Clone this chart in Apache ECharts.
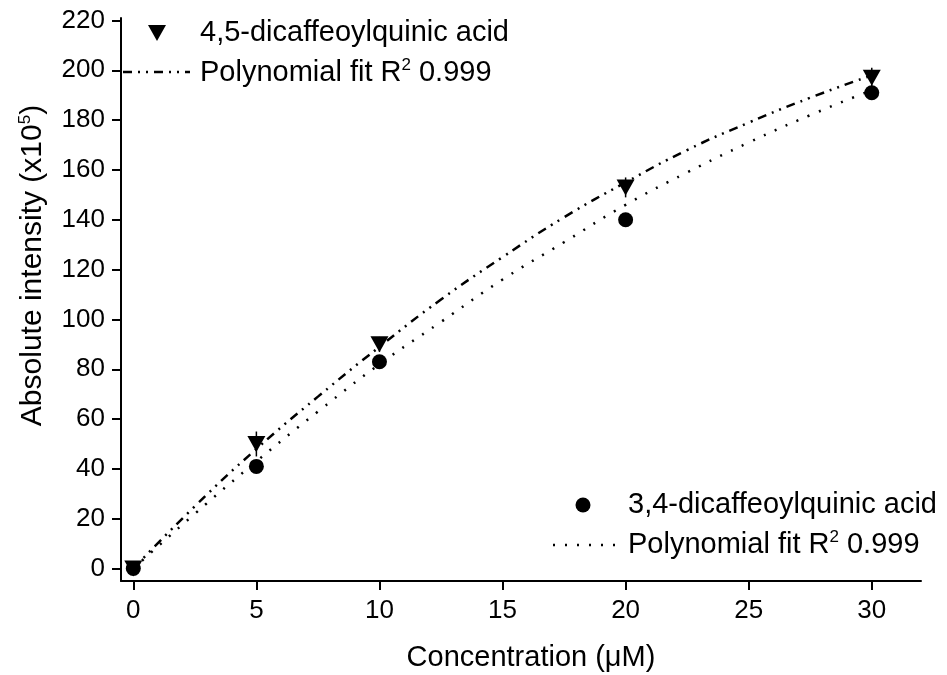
<!DOCTYPE html>
<html>
<head>
<meta charset="utf-8">
<script src="https://cdn.jsdelivr.net/npm/echarts@6/dist/echarts.min.js"></script>
<style>
html, body { margin: 0; background: #fff; }
#chart { width: 947px; height: 675px; }
</style>
</head>
<body>
<div id="chart"></div>
<script>
// concentrations (uM)
const conc = [0, 5, 10, 20, 30]
// 4,5-dicaffeoylquinic acid, intensity x10^5
const dcqa45 = [0, 50, 90, 153, 197]
const dcqa45Err = [0, 5, 3, 4, 4]
// 3,4-dicaffeoylquinic acid
const dcqa34 = [0, 41, 83, 140, 191]
// fitted curves
const fitX = [0, 2.5, 5, 7.5, 10, 12.5, 15, 17.5, 20, 22.5, 25, 27.5, 30]
const fit45 = [0, 25, 48, 69, 89, 108, 125, 141, 155, 168, 179, 189, 198]
const fit34 = [0, 22, 43, 63, 82, 99, 116, 131, 146, 159, 171, 182, 192]
const xTicks = [0, 5, 10, 15, 20, 25, 30]
const yTicks = [0, 20, 40, 60, 80, 100, 120, 140, 160, 180, 200, 220]

const pairs = (xs, ys) => xs.map((x, i) => [x, ys[i]])
const font = 'Liberation Sans, Arial, sans-serif'
const fitLabel = 'Polynomial fit R{sup|2} 0.999'
const dashDot = [9, 6, 2, 6, 2, 6]
const dotted = [2, 10]

const supStyle = { fontSize: 17, fontFamily: font, fill: '#000', color: '#000', padding: [0, 0, 15, 0] }

// legend text
function legendText (x, y, text) {
  return {
    type: 'text',
    style: {
      x: x, y: y, text: text, fill: '#000',
      fontFamily: font, fontSize: 29, verticalAlign: 'middle',
      rich: { sup: supStyle }
    }
  }
}
// legend line sample
function legendLine (x1, x2, y, dash) {
  return {
    type: 'line',
    shape: { x1: x1, y1: y, x2: x2, y2: y },
    style: { stroke: '#000', lineWidth: 2.5, lineDash: dash }
  }
}

const chart = echarts.init(document.getElementById('chart'))

const option = {
  backgroundColor: '#fff',
  animation: false,
  grid: { left: 121, right: 26, top: 18, bottom: 94, outerBoundsMode: 'none' },
  graphic: [
    { type: 'polygon', shape: { points: [[148, 25], [166, 25], [157, 41]] }, style: { fill: '#000' } },
    legendText(200, 33, '4,5-dicaffeoylquinic acid'),
    legendLine(123, 190, 72, dashDot),
    legendText(200, 73, fitLabel),
    { type: 'circle', shape: { cx: 583, cy: 505, r: 7.5 }, style: { fill: '#000' } },
    legendText(628, 505, '3,4-dicaffeoylquinic acid'),
    legendLine(553, 616, 545, dotted),
    legendText(628, 545, fitLabel)
  ],
  xAxis: {
    type: 'value',
    min: -0.5,
    max: 32,
    name: 'Concentration (\u03bcM)',
    nameLocation: 'middle',
    nameGap: 62,
    nameTextStyle: { fontFamily: font, fontSize: 29, color: '#000', padding: [0, 0, 0, 20] },
    axisLine: { onZero: false, lineStyle: { color: '#000', width: 2 } },
    axisTick: { show: true, length: 9, lineStyle: { width: 2 }, customValues: xTicks },
    axisLabel: { fontFamily: font, fontSize: 26, color: '#000', margin: 17, customValues: xTicks },
    splitLine: { show: false }
  },
  yAxis: {
    type: 'value',
    min: -5,
    max: 221,
    name: 'Absolute intensity (x10{sup|5})',
    nameLocation: 'middle',
    nameGap: 72,
    nameTextStyle: {
      fontFamily: font, fontSize: 30, color: '#000',
      padding: [0, 0, 0, 68],
      rich: { sup: supStyle }
    },
    axisLine: { show: true, onZero: false, lineStyle: { color: '#000', width: 2 } },
    axisTick: { show: true, length: 9, lineStyle: { width: 2 }, customValues: yTicks },
    axisLabel: { fontFamily: font, fontSize: 26, color: '#000', margin: 16, customValues: yTicks },
    splitLine: { show: false }
  },
  series: [
    {
      name: 'Polynomial fit (4,5)',
      type: 'line',
      data: pairs(fitX, fit45),
      smooth: true,
      symbol: 'none',
      lineStyle: { color: '#000', width: 2.5, type: dashDot },
      z: 2
    },
    {
      name: 'Polynomial fit (3,4)',
      type: 'line',
      data: pairs(fitX, fit34),
      smooth: true,
      symbol: 'none',
      lineStyle: { color: '#000', width: 2.5, type: dotted },
      z: 2
    },
    {
      // error bars for 4,5-diCQA
      type: 'custom',
      data: conc.map((x, i) => [x, dcqa45[i] - dcqa45Err[i], dcqa45[i] + dcqa45Err[i]]),
      renderItem: (params, api) => {
        const lo = api.coord([api.value(0), api.value(1)])
        const hi = api.coord([api.value(0), api.value(2)])
        return {
          type: 'line',
          shape: { x1: lo[0], y1: lo[1], x2: hi[0], y2: hi[1] },
          style: { stroke: '#000', lineWidth: 1.5 }
        }
      },
      z: 3
    },
    {
      name: '3,4-dicaffeoylquinic acid',
      type: 'scatter',
      data: pairs(conc, dcqa34),
      symbol: 'circle',
      symbolSize: 15,
      itemStyle: { color: '#000', opacity: 1 },
      z: 4
    },
    {
      name: '4,5-dicaffeoylquinic acid',
      type: 'scatter',
      data: pairs(conc, dcqa45),
      symbol: 'triangle',
      symbolRotate: 180,
      symbolSize: [18, 16],
      itemStyle: { color: '#000', opacity: 1 },
      z: 5
    }
  ]
}

chart.setOption(option)
</script>
</body>
</html>
